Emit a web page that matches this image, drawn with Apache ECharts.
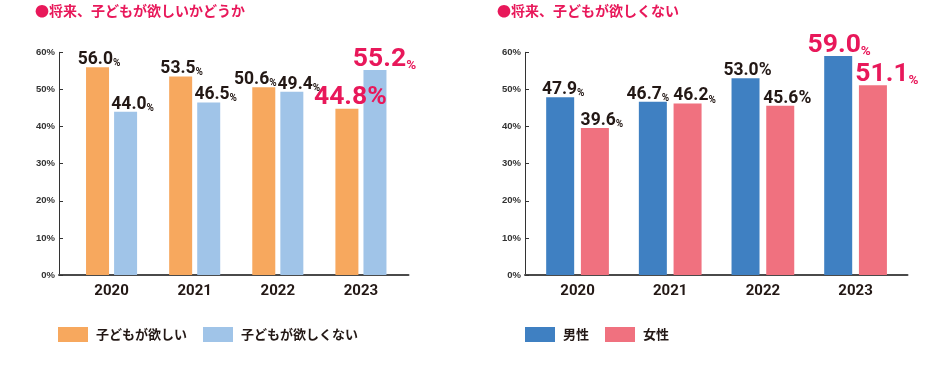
<!DOCTYPE html>
<html><head><meta charset="utf-8">
<script src="https://cdn.jsdelivr.net/npm/echarts@6/dist/echarts.min.js"></script>
<style>html,body{margin:0;padding:0;background:#fff}#c{width:944px;height:367px}</style>
</head><body><div id="c"></div>
<script>
// ---- data ----
const years = ['2020', '2021', '2022', '2023'];
const wantNames = ['子どもが欲しい', '子どもが欲しくない'];
const wantYes = [56.0, 53.5, 50.6, 44.8];
const wantNo = [44.0, 46.5, 49.4, 55.2];
const genderNames = ['男性', '女性'];
const male = [47.9, 46.7, 53.0, 59.0];
const female = [39.6, 46.2, 45.6, 51.1];
const titles = ['●将来、子どもが欲しいかどうか', '●将来、子どもが欲しくない'];
const yMin = 0, yMax = 60, yStep = 10;

// ---- label styling (kind: n = normal, nf = normal w/ full %, h = highlight, hf = highlight w/ full %) ----
const kindYes = ['n', 'n', 'n', 'hf'];
const kindNo = ['n', 'n', 'n', 'h'];
const kindMale = ['n', 'n', 'nf', 'h'];
const kindFemale = ['n', 'n', 'nf', 'h'];
const dxYes = [1.5, 1, -8.5, 3.5];
const dxNo = [7, 7, 7, 9.5];
const dxMale = [3, -5, 2, 1];
const dxFemale = [7, 7, 7, 14];

const NUMFONT = 'Roboto, "Liberation Sans", sans-serif';
const JP = '"Noto Sans CJK JP", sans-serif';
const DARK = '#231815';
const PINK = '#E8185A';

const rich = {
  num: {fontSize: 17.5, fontWeight: 'bold', color: DARK, fontFamily: NUMFONT, lineHeight: 17, verticalAlign: 'bottom'},
  pct: {fontSize: 10, fontWeight: 'bold', color: DARK, fontFamily: NUMFONT, lineHeight: 10, verticalAlign: 'bottom'},
  pctF: {fontSize: 17.5, fontWeight: 'bold', color: DARK, fontFamily: NUMFONT, lineHeight: 17, verticalAlign: 'bottom'},
  big: {fontSize: 26.5, fontWeight: 'bold', color: PINK, fontFamily: NUMFONT, lineHeight: 26, verticalAlign: 'bottom'},
  bpct: {fontSize: 13.5, fontWeight: 'bold', color: PINK, fontFamily: NUMFONT, lineHeight: 13, verticalAlign: 'bottom'},
  bpctF: {fontSize: 26.5, fontWeight: 'bold', color: PINK, fontFamily: NUMFONT, lineHeight: 26, verticalAlign: 'bottom'}
};
function fmt(kind, v) {
  const s = v.toFixed(1);
  if (kind === 'n') return '{num|' + s + '}{pct|%}';
  if (kind === 'nf') return '{num|' + s + '}{pctF|%}';
  if (kind === 'h') return '{big|' + s + '}{bpct|%}';
  return '{big|' + s + '}{bpctF|%}';
}
function bars(name, data, idx, color, kinds, dx, bw, gap) {
  return {
    type: 'bar', name: name, xAxisIndex: idx, yAxisIndex: idx,
    barWidth: bw, barGap: gap,
    itemStyle: {color: color},
    label: {show: true, position: 'top', distance: 0, rich: rich},
    data: data.map((v, i) => ({
      value: v,
      label: {offset: [dx[i], kinds[i][0] === 'h' ? 2.5 : 1.5], formatter: fmt(kinds[i], v)}
    }))
  };
}

const gridTop = 52.3, gridH = 222.7;
const frames = [{left: 59, width: 349.5}, {left: 525, width: 382.5}];
const plots = [{left: 70, width: 332.5}, {left: 531.2, width: 370.7}];

const grid = [], xAxis = [], yAxis = [];
for (let k = 0; k < 2; k++) {
  grid.push({left: frames[k].left, width: frames[k].width, top: gridTop, height: gridH});
  grid.push({left: plots[k].left, width: plots[k].width, top: gridTop, height: gridH});
  xAxis.push({gridIndex: 2 * k, type: 'value', min: 0, max: 1,
    axisLine: {show: true, lineStyle: {color: '#4a4a4a', width: 2}},
    axisTick: {show: false}, axisLabel: {show: false}, splitLine: {show: false}});
  xAxis.push({gridIndex: 2 * k + 1, type: 'category', data: years,
    axisLine: {show: false}, axisTick: {show: false},
    axisLabel: {margin: 9, fontSize: 15, fontWeight: 'bold', color: DARK, fontFamily: NUMFONT}});
  yAxis.push({gridIndex: 2 * k, type: 'value', min: yMin, max: yMax, interval: yStep,
    axisLine: {show: true, lineStyle: {color: '#333', width: 1}},
    axisTick: {show: true, inside: true, length: 4, lineStyle: {color: '#333'}},
    axisLabel: {formatter: '{value}%', fontSize: 9.5, fontWeight: 'bold', color: '#333', margin: 4,
      fontFamily: '"Liberation Sans", Arial, sans-serif'},
    splitLine: {show: false}});
  yAxis.push({gridIndex: 2 * k + 1, type: 'value', min: yMin, max: yMax, interval: yStep, show: false,
    splitLine: {show: false}});
}

const chart = echarts.init(document.getElementById('c'), null, {renderer: 'canvas'});
chart.setOption({
  animation: false,
  backgroundColor: '#fff',
  title: [
    {text: titles[0], left: 35, top: 4, padding: 0,
      textStyle: {fontSize: 14, fontWeight: 'bold', color: PINK, fontFamily: JP}},
    {text: titles[1], left: 497, top: 4, padding: 0,
      textStyle: {fontSize: 14, fontWeight: 'bold', color: PINK, fontFamily: JP}}
  ],
  legend: [
    {data: wantNames, left: 58, top: 327, padding: 0, itemWidth: 30, itemHeight: 15, itemGap: 16, icon: 'rect',
      textStyle: {fontSize: 13, fontWeight: 'bold', color: DARK, fontFamily: JP, padding: [0, 0, 0, 3]}},
    {data: genderNames, left: 525, top: 327, padding: 0, itemWidth: 30, itemHeight: 15, itemGap: 16, icon: 'rect',
      textStyle: {fontSize: 13, fontWeight: 'bold', color: DARK, fontFamily: JP, padding: [0, 0, 0, 3]}}
  ],
  grid: grid, xAxis: xAxis, yAxis: yAxis,
  series: [
    bars(wantNames[0], wantYes, 1, '#F7A85E', kindYes, dxYes, 23, '22%'),
    bars(wantNames[1], wantNo, 1, '#A0C4E8', kindNo, dxNo, 23, '22%'),
    bars(genderNames[0], male, 3, '#3F80C2', kindMale, dxMale, 28, '24%'),
    bars(genderNames[1], female, 3, '#F0717F', kindFemale, dxFemale, 28, '24%')
  ]
});
</script></body></html>
